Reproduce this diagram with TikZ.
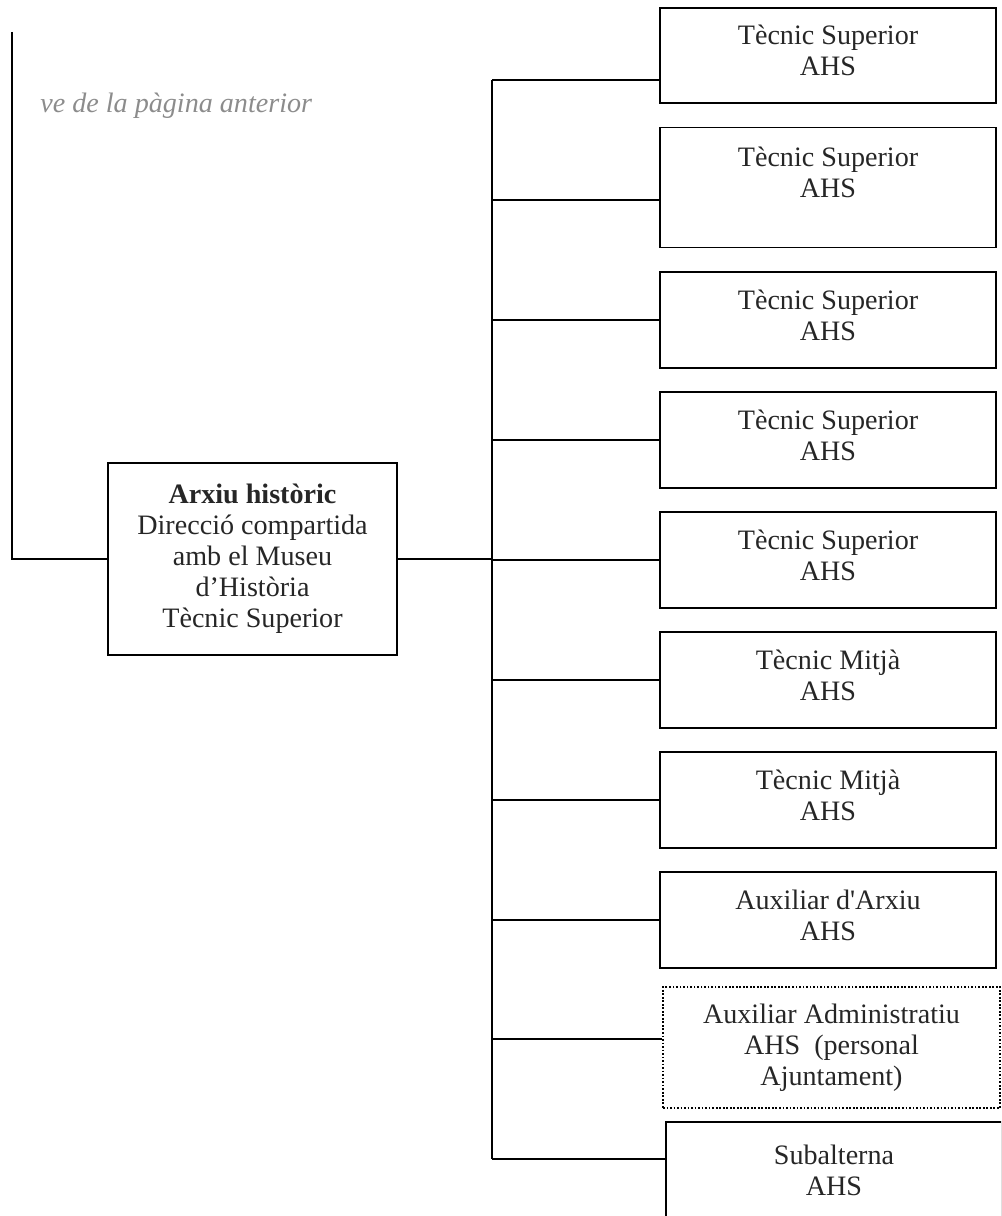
\documentclass[tikz,border=0pt]{standalone}
\usepackage{fontspec}
\setmainfont{Liberation Serif}
\def \TxtSize {\fontsize{16pt}{17.6pt}\selectfont}
\tikzstyle{post}=[
  draw=black,
  line width=1.1pt,
  rectangle,
  inner sep=0pt,
  align=center,
  text=black!85,
  font=\TxtSize,
  minimum width=6.72cm,
  minimum height=1.92cm
]
\tikzstyle{raised}=[text depth=5.6pt]
\tikzstyle{tempost}=[post, dash pattern=on 1pt off 1pt, line width=0.9pt]
\tikzstyle{link}=[line width=1.1pt]

\begin{document}
\begin{tikzpicture}[x=0.02cm, y=-0.02cm]
          \def \xTrunk {492}
          \def \xBox {828}

          \useasboundingbox (0,0) rectangle (1001,1216);
          \clip (0,0) rectangle (1001,1216);

          % head
          \node[post, minimum width=5.78cm, minimum height=3.84cm] (head) at (252.5, 559)
            {\textbf{Arxiu històric}\\Direcció compartida\\amb el Museu\\d’Història\\Tècnic Superior};
          \node[anchor=base west, font=\TxtSize\itshape, text=black!45, inner sep=0pt] (prev) at (40, 113)
            {ve de la pàgina anterior};
          \coordinate (top) at (12, 32);

          % posts
          \node[post, raised, minimum height=1.9cm] (u1) at (\xBox, 55.5) {Tècnic Superior\\AHS};
          \node[post, minimum height=2.4cm] (u2) at (\xBox, 187.5) {Tècnic Superior\\AHS\\~};
          \node[post, raised] (u3) at (\xBox, 320) {Tècnic Superior\\AHS};
          \node[post, raised] (u4) at (\xBox, 440) {Tècnic Superior\\AHS};
          \node[post, raised] (u5) at (\xBox, 560) {Tècnic Superior\\AHS};
          \node[post, raised] (u6) at (\xBox, 680) {Tècnic Mitjà\\AHS};
          \node[post, raised] (u7) at (\xBox, 800) {Tècnic Mitjà\\AHS};
          \node[post, raised] (u8) at (\xBox, 920) {Auxiliar d\textquotesingle Arxiu\\AHS};
          \node[tempost, minimum width=6.74cm, minimum height=2.42cm] (u9) at (831.5, 1047.5)
            {Auxiliar Administratiu\\AHS~~(personal\\Ajuntament)};
          \node[post] (u10) at (834, 1170) {Subalterna\\AHS};

          % connect posts
          \foreach \i/\yy in {1/80,2/200,3/320,4/440,5/560,6/680,7/800,8/920,9/1039,10/1159}{
            \coordinate (t\i) at (\xTrunk, \yy);
            \draw[link] (t\i) -- (t\i -| u\i.west);
          }
          \draw[link] (t1) -- (t10);

          % connect head
          \draw[link] (head.east) -- (head.east -| t1);
          \draw[link] (top) |- (head.west);
        \end{tikzpicture}
\end{document}
